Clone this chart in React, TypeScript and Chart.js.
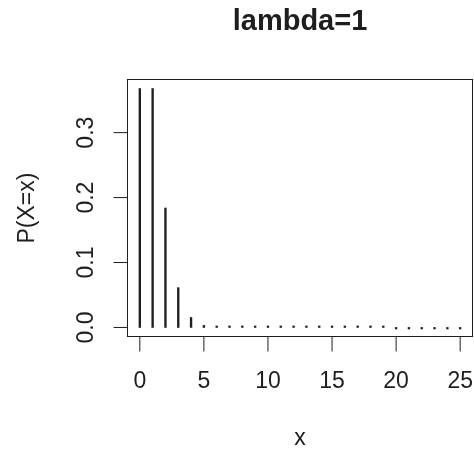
import React, { useEffect, useRef } from "react";
import { Chart, registerables } from "chart.js";

Chart.register(...registerables);

const titleText = "lambda=1";
const xAxisLabel = "x";
const yAxisLabel = "P(X=x)";

const xValues = [0, 1, 2, 3, 4, 5, 6, 7, 8, 9, 10, 11, 12, 13, 14, 15, 16, 17, 18, 19, 20, 21, 22, 23, 24, 25];
const probabilities = [
  0.3679, 0.3679, 0.1839, 0.0613, 0.0153, 0.0031, 0.0005, 0.00007, 0.000009, 0.000001,
  0.0000001, 0.00000001, 0.000000001, 0.0000000001, 0.00000000001, 0.000000000001,
  0.0000000000001, 0.00000000000001, 0.000000000000001, 0.0000000000000001,
  0.00000000000000001, 0.000000000000000001, 0.0000000000000000001, 0.00000000000000000001,
  0.000000000000000000001, 0.0000000000000000000001,
];

const xTicks = [0, 5, 10, 15, 20, 25];
const xTickLabels = ["0", "5", "10", "15", "20", "25"];
const yTicks = [0, 0.1, 0.2, 0.3];
const yTickLabels = ["0.0", "0.1", "0.2", "0.3"];

const FONT = '"Liberation Sans", Arial, Helvetica, sans-serif';
const INK = "#1e1e1e";

const baseAxesPlugin = {
  id: "baseAxes",
  afterDraw(chart: any) {
    const { ctx, chartArea: a, scales } = chart;
    const xs = scales.x;
    const ys = scales.y;
    ctx.save();
    ctx.strokeStyle = INK;
    ctx.fillStyle = INK;
    ctx.lineWidth = 1;

    // box
    const L = Math.round(a.left) + 0.5;
    const T = Math.round(a.top) + 0.5;
    const R = Math.round(a.right) - 0.5;
    const B = Math.round(a.bottom) - 0.5;
    ctx.strokeRect(L, T, R - L, B - T);

    // x ticks
    ctx.font = `23px ${FONT}`;
    ctx.textAlign = "center";
    ctx.textBaseline = "alphabetic";
    xTicks.forEach((t, i) => {
      const px = xs.getPixelForValue(t);
      ctx.beginPath();
      ctx.moveTo(px, B);
      ctx.lineTo(px, B + 15);
      ctx.stroke();
      ctx.fillText(xTickLabels[i], px, 388);
    });

    // y ticks
    yTicks.forEach((t, i) => {
      const py = ys.getPixelForValue(t);
      ctx.beginPath();
      ctx.moveTo(L - 14, py);
      ctx.lineTo(L, py);
      ctx.stroke();
      ctx.save();
      ctx.translate(93, py);
      ctx.rotate(-Math.PI / 2);
      ctx.fillText(yTickLabels[i], 0, 0);
      ctx.restore();
    });

    // axis titles
    const cx = (a.left + a.right) / 2;
    const cy = (a.top + a.bottom) / 2;
    ctx.fillText(xAxisLabel, cx, 445);
    ctx.save();
    ctx.translate(34, cy);
    ctx.rotate(-Math.PI / 2);
    ctx.fillText(yAxisLabel, 0, 0);
    ctx.restore();

    // main title
    ctx.font = `bold 29px ${FONT}`;
    ctx.fillText(titleText, cx, 30);
    ctx.restore();
  },
};

export default function App() {
  const canvasRef = useRef<HTMLCanvasElement | null>(null);

  useEffect(() => {
    if (!canvasRef.current) return;
    const chart = new Chart(canvasRef.current, {
      type: "bar",
      data: {
        datasets: [
          {
            data: xValues.map((v, i) => ({ x: v, y: probabilities[i] })),
            backgroundColor: INK,
            borderWidth: 0,
            barThickness: 1.7,
            minBarLength: 1.5,
          } as any,
        ],
      },
      options: {
        responsive: false,
        animation: false,
        devicePixelRatio: 1,
        events: [],
        layout: { padding: { left: 127, right: 1, top: 79, bottom: 115 } },
        plugins: {
          legend: { display: false },
          tooltip: { enabled: false },
          title: { display: false },
        },
        scales: {
          x: {
            type: "linear",
            min: -1,
            max: 26,
            offset: false,
            display: false,
            grid: { offset: false },
          },
          y: {
            type: "linear",
            min: -0.0147,
            max: 0.3826,
            display: false,
          },
        },
      } as any,
      plugins: [baseAxesPlugin],
    });
    return () => chart.destroy();
  }, []);

  return (
    <div style={{ position: "absolute", left: 0, top: 0, width: 474, height: 452, background: "#fff" }}>
      <canvas ref={canvasRef} width={474} height={452} style={{ display: "block", width: 474, height: 452 }} />
    </div>
  );
}
